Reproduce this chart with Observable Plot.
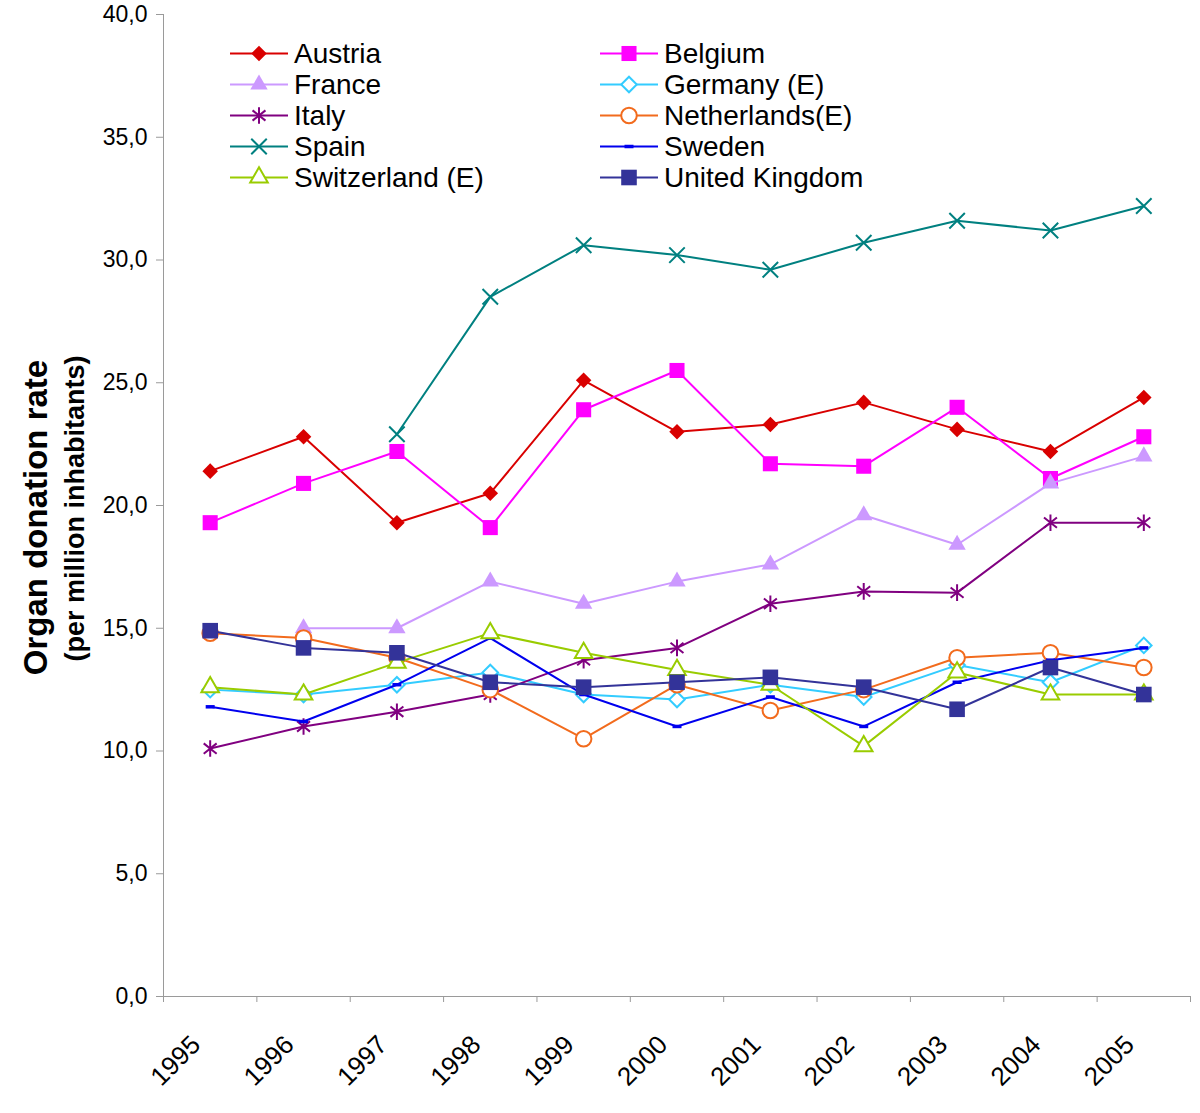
<!DOCTYPE html>
<html><head><meta charset="utf-8">
<script src="https://cdn.jsdelivr.net/npm/d3@7"></script>
<script src="https://cdn.jsdelivr.net/npm/@observablehq/plot@0.6"></script>
<style>
body{margin:0;background:#fff;font-family:"Liberation Sans",Arial,sans-serif;}
#wrap{position:relative;width:1200px;height:1113px;}
#legend{position:absolute;left:230px;top:38px;display:grid;grid-template-columns:370px auto;grid-auto-rows:31px;font-size:28px;color:#000;}
.item{display:flex;align-items:center;white-space:nowrap;}
.item svg{flex:none;margin-right:4px;overflow:visible;}
</style></head><body><div id="wrap"><div id="legend"></div></div>
<script>
const years = [1995, 1996, 1997, 1998, 1999, 2000, 2001, 2002, 2003, 2004, 2005];
const countries = ["Austria", "Belgium", "France", "Germany (E)", "Italy", "Netherlands(E)", "Spain", "Sweden", "Switzerland (E)", "United Kingdom"];
const austria     = [21.4, 22.8, 19.3, 20.5, 25.1, 23.0, 23.3, 24.2, 23.1, 22.2, 24.4];
const belgium     = [19.3, 20.9, 22.2, 19.1, 23.9, 25.5, 21.7, 21.6, 24.0, 21.1, 22.8];
const france      = [null, 15.0, 15.0, 16.9, 16.0, 16.9, 17.6, 19.6, 18.4, 20.9, 22.0];
const germany     = [12.5, 12.3, 12.7, 13.2, 12.3, 12.1, 12.7, 12.2, 13.5, 12.8, 14.3];
const italy       = [10.1, 11.0, 11.6, 12.3, 13.7, 14.2, 16.0, 16.5, 16.45, 19.3, 19.3];
const netherlands = [14.8, 14.6, 13.8, 12.5, 10.5, 12.7, 11.65, 12.5, 13.8, 14.0, 13.4];
const spain       = [null, null, 22.9, 28.5, 30.6, 30.2, 29.6, 30.7, 31.6, 31.2, 32.2];
const sweden      = [11.8, 11.2, 12.7, 14.6, 12.3, 11.0, 12.2, 11.0, 12.8, 13.7, 14.2];
const switzerland = [12.6, 12.3, 13.6, 14.8, 14.0, 13.3, 12.7, 10.2, 13.2, 12.3, 12.3];
const uk          = [14.9, 14.2, 14.0, 12.8, 12.6, 12.8, 13.0, 12.6, 11.7, 13.4, 12.3];
const yTicks = [0, 5, 10, 15, 20, 25, 30, 35, 40];

const seriesValues = [austria, belgium, france, germany, italy, netherlands, spain, sweden, switzerland, uk];

// custom marker shapes
const dash = {draw(ctx) { ctx.rect(-4.5, -1.75, 9, 3.5); }};
const star = {draw(ctx, size) {
  const r = Math.sqrt(size / Math.PI);
  ctx.moveTo(0, -r); ctx.lineTo(0, r);
  const a = r * 0.78, b = r * 0.62;
  ctx.moveTo(-a, -b); ctx.lineTo(a, b);
  ctx.moveTo(-a, b); ctx.lineTo(a, -b);
}};

const styles = [
  {color: "#d90000", symbol: d3.symbolDiamond2, filled: true, r: 7.0},
  {color: "#ff00ff", symbol: d3.symbolSquare, filled: true, r: 8.5},
  {color: "#cc99ff", symbol: d3.symbolTriangle2, filled: true, r: 8.3},
  {color: "#33ccff", symbol: d3.symbolDiamond2, filled: false, r: 7.0},
  {color: "#800080", symbol: star, filled: false, line: true, r: 8.3},
  {color: "#f26b1d", symbol: d3.symbolCircle, filled: false, r: 7.8},
  {color: "#008080", symbol: d3.symbolTimes, filled: false, line: true, r: 7.1},
  {color: "#0000ee", symbol: dash, filled: true, r: 5},
  {color: "#99cc00", symbol: d3.symbolTriangle2, filled: false, r: 8.4},
  {color: "#333399", symbol: d3.symbolSquare, filled: true, r: 8.8}
];

const rows = [];
countries.forEach((c, i) => {
  seriesValues[i].forEach((v, j) => { if (v != null) rows.push({country: c, year: years[j], value: v}); });
});

const bounds = years.map(y => y - 0.5).concat([years[years.length - 1] + 0.5]);

const marks = [
  Plot.ruleY([0], {stroke: "#9a9a9a"}),
  Plot.ruleX([bounds[0]], {stroke: "#9a9a9a"}),
  Plot.axisY({ticks: yTicks, tickFormat: d => d.toFixed(1).replace(".", ","), tickSize: 7, tickPadding: 9, fontSize: 23, stroke: "#9a9a9a", fill: "#000", label: null}),
  Plot.axisX({ticks: bounds, tickSize: 6, tickFormat: () => "", stroke: "#9a9a9a", label: null}),
  Plot.axisX({ticks: years, tickSize: 0, tickRotate: -45, tickPadding: 44, tickFormat: d => String(d), fontSize: 26, fill: "#000", label: null, dx: -14}),
  Plot.text(["Organ donation rate"], {text: d => d, frameAnchor: "left", textAnchor: "middle", dx: -127, dy: 12, rotate: -90, fontSize: 33, fontWeight: "bold", fill: "#000"}),
  Plot.text(["(per million inhabitants)"], {text: d => d, frameAnchor: "left", textAnchor: "middle", dx: -88, dy: 3, rotate: -90, fontSize: 27, fontWeight: "bold", fill: "#000"})
];

countries.forEach((c, i) => {
  const s = styles[i];
  const data = rows.filter(d => d.country === c);
  marks.push(Plot.line(data, {x: "year", y: "value", stroke: s.color, strokeWidth: 2}));
  marks.push(Plot.dot(data, {
    x: "year", y: "value", symbol: s.symbol, r: s.r,
    fill: s.filled ? s.color : (s.line ? "none" : "white"),
    stroke: s.filled ? "none" : s.color,
    strokeWidth: 2
  }));
});

const chart = Plot.plot({
  width: 1200, height: 1113,
  marginLeft: 163, marginRight: 10, marginTop: 14, marginBottom: 117,
  x: {type: "linear", domain: [bounds[0], bounds[bounds.length - 1]], label: null},
  y: {domain: [0, 40], label: null},
  style: {fontFamily: "Liberation Sans, Arial, sans-serif", background: "#fff", overflow: "visible"},
  marks
});
const wrap = document.getElementById("wrap");
wrap.insertBefore(chart, wrap.firstChild);

// legend
const legend = document.getElementById("legend");
countries.forEach((c, i) => {
  const s = styles[i];
  const item = document.createElement("div");
  item.className = "item";
  const svg = d3.create("svg").attr("width", 60).attr("height", 31);
  svg.append("line").attr("x1", 0).attr("x2", 58).attr("y1", 15.5).attr("y2", 15.5).attr("stroke", s.color).attr("stroke-width", 2);
  svg.append("path")
    .attr("transform", "translate(29,15.5)")
    .attr("d", d3.symbol(s.symbol, Math.PI * s.r * s.r)())
    .attr("fill", s.filled ? s.color : (s.line ? "none" : "white"))
    .attr("stroke", s.filled ? "none" : s.color)
    .attr("stroke-width", 2);
  item.appendChild(svg.node());
  const t = document.createElement("span");
  t.textContent = c;
  item.appendChild(t);
  legend.appendChild(item);
});
</script>
</body></html>
